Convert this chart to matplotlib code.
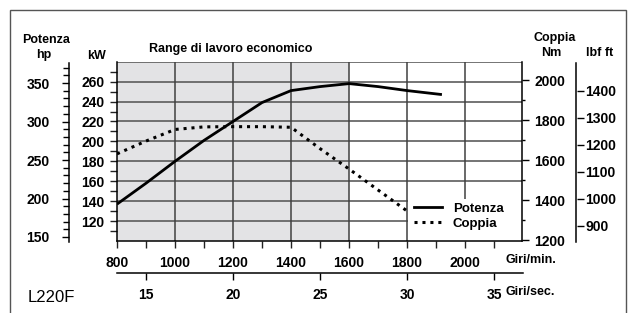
import matplotlib.pyplot as plt
from matplotlib.patches import Rectangle
from matplotlib.lines import Line2D

plt.rcParams['font.family'] = ['Liberation Sans', 'DejaVu Sans']
plt.rcParams['font.weight'] = 'bold'
plt.rcParams['font.size'] = 9

# -------------------------
# Data
# -------------------------
rpm_potenza = [800, 900, 1000, 1100, 1200, 1300, 1400, 1500, 1600, 1700, 1800, 1920]
potenza_kw = [137, 158, 180, 201, 220, 239, 251, 255, 258, 255, 251, 247]

rpm_coppia = [800, 900, 1000, 1100, 1200, 1300, 1400, 1500, 1600, 1700, 1800]
coppia_nm = [1631, 1695, 1753, 1766, 1767, 1767, 1764, 1657, 1555, 1450, 1345]

rpm_ticks = [800, 1000, 1200, 1400, 1600, 1800, 2000]
rps_ticks = [15, 20, 25, 30, 35]
kw_ticks = [120, 140, 160, 180, 200, 220, 240, 260]
hp_ticks = [150, 200, 250, 300, 350]
nm_ticks = [1200, 1400, 1600, 1800, 2000]
lbf_ticks = [900, 1000, 1100, 1200, 1300, 1400]

economic_range = (800, 1600)

W, H = 630, 313
TICK_FS = 10


def box(x0, y0, x1, y1):
    # pixel box (top-left origin) -> figure fraction
    return [x0 / W, 1 - y1 / H, (x1 - x0) / W, (y1 - y0) / H]


def only_spine(a, side):
    for s in a.spines:
        a.spines[s].set_visible(s == side)


fig = plt.figure(figsize=(6.3, 3.13), dpi=100)

# outer frame
fig.patches.append(Rectangle((10 / W, -0.1), 616 / W, 1.1 - 10 / H,
                             transform=fig.transFigure, fill=False,
                             edgecolor='#555555', lw=1))

# -------------------------
# Main axes: kW vs rpm
# -------------------------
ax = fig.add_axes(box(117, 61.7, 521.7, 241))
ax.set_xlim(800, 2195)
ax.set_ylim(100, 280)
ax.axvspan(*economic_range, color='#e3e3e5', zorder=0, lw=0)
for y in range(120, 281, 20):
    ax.axhline(y, color='#5c5c5c', lw=1.2, zorder=1)
for x in range(1000, 2001, 200):
    ax.axvline(x, color='#404040', lw=1.1, zorder=1)
ax.add_patch(Rectangle((0.72, 0), 0.28, 0.235, transform=ax.transAxes,
                       facecolor='white', edgecolor='none', zorder=2))

ax.plot(rpm_potenza, potenza_kw, color='black', lw=2, zorder=4,
        solid_capstyle='butt')

only_spine(ax, 'left')
ax.spines['bottom'].set_visible(True)
ax.spines['left'].set_linewidth(1.1)
ax.spines['bottom'].set_linewidth(1.1)
ax.set_xticks(rpm_ticks)
ax.set_xticks(range(900, 2200, 200), minor=True)
ax.set_yticks(kw_ticks)
ax.set_yticks(range(110, 280, 20), minor=True)
ax.tick_params(axis='both', which='both', direction='out', length=5,
               width=1, color='#222222')
ax.tick_params(axis='x', pad=6, labelsize=TICK_FS)
ax.tick_params(axis='y', pad=4, labelsize=TICK_FS)

# -------------------------
# Nm axis (right)
# -------------------------
ax2 = ax.twinx()
ax2.set_ylim(1195, 2092)
ax2.plot(rpm_coppia, coppia_nm, color='black', lw=2.2,
         linestyle=(0, (1, 1.6)), zorder=4)
only_spine(ax2, 'right')
ax2.spines['right'].set_linewidth(1.1)
ax2.set_yticks(nm_ticks)
ax2.set_yticks(range(1300, 2000, 200), minor=True)
ax2.tick_params(axis='y', which='major', direction='out', length=5, width=1,
                pad=4, labelsize=TICK_FS)
ax2.tick_params(axis='y', which='minor', direction='out', length=2, width=1)

handles = [Line2D([], [], color='black', lw=2),
           Line2D([], [], color='black', lw=2.2, linestyle=(0, (1, 1.6)))]
ax2.legend(handles, ['Potenza', 'Coppia'], loc='upper left',
           bbox_to_anchor=(0.735, 0.215), frameon=False, borderpad=0,
           borderaxespad=0, handlelength=2.1, handletextpad=0.8,
           labelspacing=0.2, prop={'weight': 'bold', 'size': 9.5})

# -------------------------
# Giri/sec axis below
# -------------------------
sec = ax.secondary_xaxis(-(273 - 241) / 179.3,
                         functions=(lambda r: r / 60, lambda s: s * 60))
sec.set_xticks(rps_ticks)
sec.spines['bottom'].set_bounds(800 / 60, 2200 / 60)
sec.spines['bottom'].set_linewidth(1.1)
sec.tick_params(direction='out', length=5, width=1, pad=6, labelsize=TICK_FS)

# -------------------------
# hp axis (far left)
# -------------------------
axh = fig.add_axes(box(69, 63, 70, 242))
axh.set_ylim(143.5, 376)
axh.set_xticks([])
axh.patch.set_visible(False)
only_spine(axh, 'left')
axh.spines['left'].set_linewidth(1.1)
axh.set_yticks(hp_ticks)
axh.set_yticks(range(160, 371, 10), minor=True)
axh.tick_params(axis='y', which='major', direction='out', length=5, width=1,
                pad=9, labelsize=TICK_FS)
axh.tick_params(axis='y', which='minor', direction='out', length=4, width=1)

# -------------------------
# lbf ft axis (far right)
# -------------------------
axl = fig.add_axes(box(576, 63, 577, 242))
axl.set_ylim(840.7, 1503.7)
axl.set_xticks([])
axl.patch.set_visible(False)
only_spine(axl, 'left')
axl.spines['left'].set_linewidth(1.1)
axl.yaxis.tick_right()
axl.set_yticks(lbf_ticks)
axl.tick_params(axis='y', direction='out', length=5, width=1, pad=1,
                labelsize=TICK_FS)

# -------------------------
# Labels
# -------------------------
fig.text(46 / W, 1 - 40 / H, 'Potenza', ha='center', va='center')
fig.text(44 / W, 1 - 55 / H, 'hp', ha='center', va='center')
fig.text(97 / W, 1 - 56 / H, 'kW', ha='center', va='center')
fig.text(555 / W, 1 - 38 / H, 'Coppia', ha='center', va='center')
fig.text(551 / W, 1 - 53 / H, 'Nm', ha='center', va='center')
fig.text(600 / W, 1 - 53 / H, 'lbf ft', ha='center', va='center')
fig.text(231 / W, 1 - 49 / H, 'Range di lavoro economico', ha='center',
         va='center')
fig.text(505 / W, 1 - 260 / H, 'Giri/min.', ha='left', va='center')
fig.text(505 / W, 1 - 292 / H, 'Giri/sec.', ha='left', va='center')
fig.text(28 / W, 1 - 297 / H, 'L220F', ha='left', va='center',
         fontsize=12, fontweight='normal')

fig.savefig('out.png', dpi=100)
